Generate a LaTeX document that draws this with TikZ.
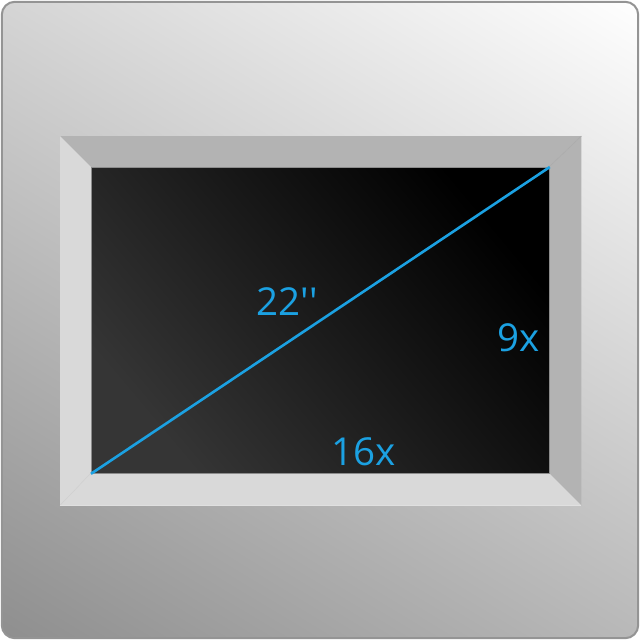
\documentclass[tikz,border=0pt]{standalone}
\usepackage{fontspec}
\newfontfamily\lblfont{Open Sans}
\definecolor{metroblue}{HTML}{1BA1E2}
\definecolor{bevdark}{HTML}{B3B3B3}
\definecolor{bevlight}{HTML}{D9D9D9}
\definecolor{scrlight}{HTML}{353535}
\definecolor{bglow}{HTML}{8E8E8E}
\tikzset{
  framebox/.style={rectangle, minimum width=636pt, minimum height=636pt, inner sep=0pt},
  frameline/.style={draw=black!42, line width=2pt, rounded corners=13pt},
  bezelbox/.style={rectangle, inner sep=0pt, anchor=north west,
    minimum width=521pt, minimum height=369pt},
  screenbox/.style={rectangle, inner sep=0pt, anchor=north west,
    minimum width=458pt, minimum height=306pt, draw=black!45, line width=0.8pt,
    top color=black, bottom color=scrlight, shading angle=-50},
  diagline/.style={draw=metroblue, line width=2.6pt},
  lbl/.style={text=metroblue, font=\lblfont\fontsize{38.5}{40}\selectfont, inner sep=0pt},
  seam/.style={line width=0.6pt}
}
\begin{document}
\begin{tikzpicture}[x=1pt,y=-1pt]
\useasboundingbox (0,0) rectangle (640,640);
\node[framebox] (frame) at (320,320) {};
\begin{scope}
  \clip[rounded corners=13pt] (frame.north west) rectangle (frame.south east);
  \begin{scope}[transform canvas={rotate around={59:(frame.center)}}]
    \shade[left color=bglow, right color=white] (-120,-120) rectangle (760,760);
  \end{scope}
\end{scope}
\draw[frameline] (frame.north west) rectangle (frame.south east);
\node[bezelbox] (bezel) at (60,136) {};
% bevels
\coordinate (sNW) at (91,167);
\coordinate (sNE) at (549,167);
\coordinate (sSW) at (91,473);
\coordinate (sSE) at (549,473);
\fill[bevdark] (bezel.north west) -- (bezel.north east) -- (sNE) -- (sNW) -- cycle;
\fill[bevdark] (bezel.north east) -- (bezel.south east) -- (sSE) -- (sNE) -- cycle;
\fill[bevlight] (bezel.south west) -- (bezel.south east) -- (sSE) -- (sSW) -- cycle;
\fill[bevlight] (bezel.north west) -- (sNW) -- (sSW) -- (bezel.south west) -- cycle;
\draw[seam, draw=black!33] (bezel.north east) -- (sNE);
\draw[seam, draw=black!18] (bezel.south west) -- (sSW);
\draw[seam, draw=black!12] (bezel.south west) -- (bezel.south east);
\node[screenbox] (screen) at (sNW) {};
\draw[diagline] (screen.south west) -- (screen.north east);
\node[lbl] (diag) at (287,302) {22''};
\node[lbl] (height) at (519,338) {9x};
\node[lbl] (width) at (364,452) {16x};
\end{tikzpicture}
\end{document}
